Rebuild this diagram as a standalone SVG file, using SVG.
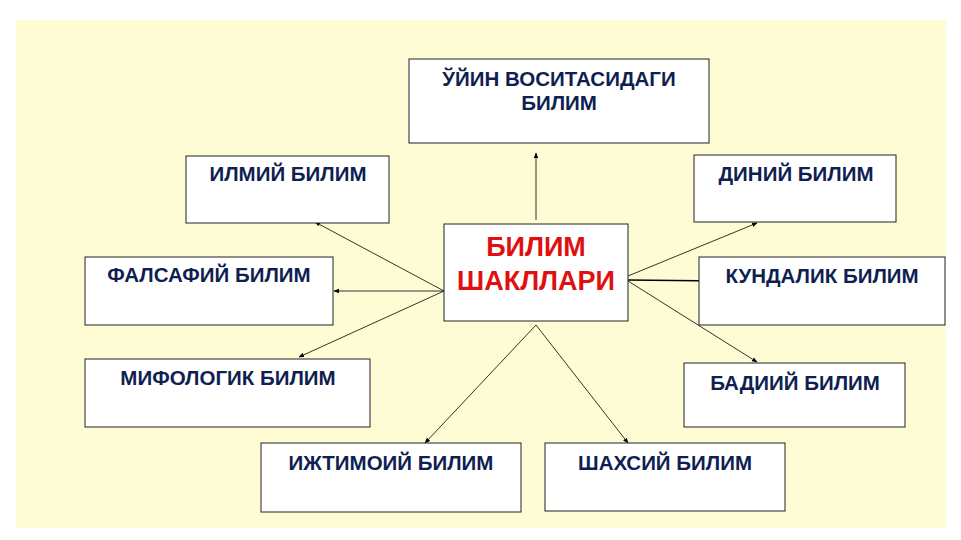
<svg xmlns="http://www.w3.org/2000/svg" width="961" height="540" viewBox="0 0 961 540">
<style>
.b{fill:#fff;stroke:#222;stroke-width:1}
.t{font-family:"Liberation Sans",Arial,sans-serif;font-weight:bold;font-size:20.5px;fill:#0f1f52;text-anchor:middle}
.c{stroke:#000;stroke-width:0.8;fill:none;marker-end:url(#a)}
</style>
<defs><marker id="a" viewBox="0 0 10 10" refX="9" refY="5" markerWidth="7" markerHeight="7" orient="auto"><path d="M0,1L10,5L0,9z" fill="#000"/></marker></defs>
<rect width="961" height="540" fill="#fff"/>
<rect x="16" y="20" width="930" height="508" fill="#fdfcd4"/>
<g id="connectors">
<line class="c" x1="536" y1="220" x2="536" y2="153"/>
<line class="c" x1="444" y1="291" x2="315" y2="222"/>
<line class="c" x1="444" y1="291" x2="334" y2="291"/>
<line class="c" x1="444" y1="291" x2="299" y2="357"/>
<line class="c" x1="628" y1="276" x2="757" y2="223"/>
<line x1="628" y1="280" x2="722" y2="281" stroke="#000" stroke-width="1.5"/>
<line class="c" x1="628" y1="281" x2="757" y2="362"/>
<line class="c" x1="536" y1="325" x2="425" y2="443"/>
<line class="c" x1="536" y1="325" x2="628" y2="443"/>
</g>
<g id="n-top"><rect class="b" x="409" y="59" width="300" height="84"/><text class="t" x="559" y="86">ЎЙИН ВОСИТАСИДАГИ</text><text class="t" x="559" y="110">БИЛИМ</text></g>
<g id="n-ilmiy"><rect class="b" x="186" y="156" width="203" height="67"/><text class="t" x="288" y="181">ИЛМИЙ БИЛИМ</text></g>
<g id="n-diniy"><rect class="b" x="694" y="155" width="202" height="67"/><text class="t" x="796" y="181">ДИНИЙ БИЛИМ</text></g>
<g id="n-center"><rect class="b" x="444" y="224" width="184" height="97"/><text class="t" x="536" y="256" style="fill:#e01010;font-size:27px">БИЛИМ</text><text class="t" x="536" y="290" style="fill:#e01010;font-size:27px">ШАКЛЛАРИ</text></g>
<g id="n-falsafiy"><rect class="b" x="85" y="257" width="248" height="68"/><text class="t" x="209" y="282">ФАЛСАФИЙ БИЛИМ</text></g>
<g id="n-kundalik"><rect class="b" x="699" y="257" width="246" height="68"/><text class="t" x="822" y="283">КУНДАЛИК БИЛИМ</text></g>
<g id="n-mifologik"><rect class="b" x="85" y="359" width="285" height="68"/><text class="t" x="228" y="385">МИФОЛОГИК БИЛИМ</text></g>
<g id="n-badiiy"><rect class="b" x="684" y="363" width="221" height="64"/><text class="t" x="795" y="390">БАДИИЙ БИЛИМ</text></g>
<g id="n-ijtimoiy"><rect class="b" x="261" y="443" width="260" height="69"/><text class="t" x="391" y="470">ИЖТИМОИЙ БИЛИМ</text></g>
<g id="n-shaxsiy"><rect class="b" x="545" y="443" width="240" height="68"/><text class="t" x="665" y="470">ШАХСИЙ БИЛИМ</text></g>
</svg>
